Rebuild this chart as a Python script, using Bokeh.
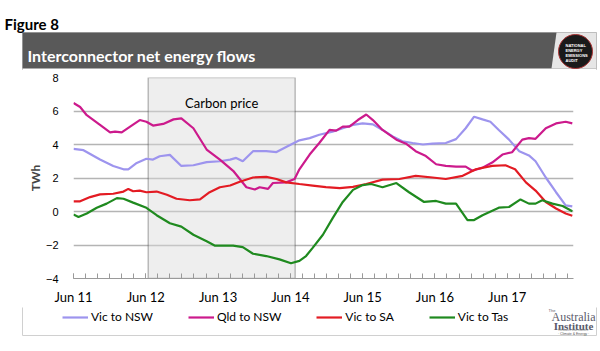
from bokeh.plotting import figure
from bokeh.layouts import column
from bokeh.models import Range1d, FixedTicker, BoxAnnotation, Label, Legend, LegendItem
from bokeh.core.properties import value
from bokeh.embed import file_html
from bokeh.resources import INLINE

# ---- data: x = months since Jun 2011, y = TWh ----
tick_months = [0, 12, 24, 36, 48, 60, 72]
tick_labels = ["Jun 11", "Jun 12", "Jun 13", "Jun 14", "Jun 15", "Jun 16", "Jun 17"]

vic_nsw_x = [0, 1.66, 4.4, 6.6, 8.3, 9.1, 10.5, 12.1, 13.2, 14.3, 16.0, 17.9, 19.9, 22.1, 24.3, 26.0,
             27.0, 28.1, 29.8, 32.0, 33.7, 35.3, 37.5, 39.2, 40.8, 43.0, 44.7, 46.4, 48.0, 49.7, 51.3,
             53.0, 54.6, 56.3, 58.0, 59.6, 61.8, 63.5, 65.1, 66.5, 67.9, 69.2, 70.6, 72.3, 74.0, 75.6,
             76.7, 78.4, 80.1, 81.7, 82.8]
vic_nsw_y = [3.74, 3.66, 3.1, 2.72, 2.52, 2.52, 2.9, 3.15, 3.1, 3.3, 3.38, 2.72, 2.76, 2.95, 3.0, 3.1,
             3.2, 3.0, 3.6, 3.6, 3.55, 3.85, 4.25, 4.38, 4.58, 4.77, 4.97, 5.17, 5.26, 5.2, 4.87,
             4.48, 4.19, 4.09, 4.0, 4.05, 4.09, 4.32, 4.97, 5.66, 5.5, 5.36, 4.87, 4.29, 3.6, 3.35,
             3.0, 2.03, 1.15, 0.37, 0.31]

qld_nsw_x = [0, 1.1, 2.2, 4.4, 6.07, 6.9, 8.0, 9.4, 11.0, 12.1, 13.2, 14.9, 16.6, 17.9, 19.9, 22.1,
             24.3, 26.5, 28.7, 30.1, 30.9, 32.3, 33.1, 35.3, 36.7, 37.5, 39.2, 40.8, 42.5, 43.6, 44.7,
             45.8, 47.2, 48.6, 49.7, 51.3, 53.6, 55.2, 56.8, 58.5, 60.2, 61.8, 63.5, 65.1, 66.2, 67.9,
             69.5, 71.2, 72.8, 74.5, 75.6, 76.7, 78.4, 80.1, 81.7, 82.8]
qld_nsw_y = [6.48, 6.24, 5.75, 5.17, 4.72, 4.77, 4.72, 5.07, 5.46, 5.36, 5.13, 5.23, 5.5, 5.56, 4.97, 3.7,
             3.1, 2.43, 1.45, 1.31, 1.45, 1.35, 1.7, 1.74, 1.94, 2.52, 3.4, 4.09, 4.87, 4.83, 5.07,
             5.07, 5.46, 5.79, 5.46, 4.87, 4.29, 4.05, 3.6, 3.31, 2.82, 2.72, 2.68, 2.68, 2.43, 2.62,
             2.92, 3.4, 3.54, 4.29, 4.38, 4.34, 4.97, 5.26, 5.36, 5.26]

vic_sa_x = [0, 1.1, 2.76, 4.4, 6.6, 8.3, 9.1, 9.9, 11.0, 12.1, 13.8, 15.5, 17.1, 19.3, 21.0, 22.6,
            24.3, 26.0, 27.6, 29.8, 32.0, 33.7, 35.3, 37.5, 39.7, 41.9, 44.2, 46.4, 48.6, 51.3, 54.1,
            56.8, 59.6, 61.8, 64.6, 66.8, 69.5, 71.7, 73.3, 75.1, 76.7, 78.4, 80.1, 81.7, 82.8]
vic_sa_y = [0.61, 0.61, 0.86, 1.02, 1.06, 1.19, 1.35, 1.21, 1.25, 1.15, 1.19, 1.0, 0.76, 0.67, 0.72, 1.15,
            1.45, 1.55, 1.78, 2.03, 2.07, 1.94, 1.74, 1.64, 1.55, 1.45, 1.39, 1.47, 1.64, 1.9, 1.94,
            2.13, 2.03, 1.94, 2.13, 2.52, 2.72, 2.76, 2.52, 1.74, 1.25, 0.57, 0.18, -0.12, -0.25]

vic_tas_x = [0, 0.83, 2.2, 3.86, 5.5, 7.2, 8.3, 9.9, 12.1, 13.8, 16.0, 17.9, 19.9, 22.1, 23.5, 26.5,
             28.1, 29.8, 32.0, 34.2, 36.1, 37.5, 38.6, 39.7, 41.4, 43.0, 44.7, 46.4, 48.0, 49.4, 51.3,
             53.6, 55.7, 58.2, 60.2, 61.8, 63.5, 65.4, 66.5, 67.9, 70.6, 72.3, 74.2, 75.6, 76.7, 77.8,
             79.5, 81.2, 82.8]
vic_tas_y = [-0.18, -0.33, -0.12, 0.22, 0.47, 0.8, 0.76, 0.53, 0.22, -0.22, -0.7, -0.9, -1.39, -1.78, -2.04, -2.04,
             -2.13, -2.52, -2.66, -2.86, -3.09, -2.95, -2.66, -2.17, -1.39, -0.41, 0.57, 1.29, 1.58, 1.64, 1.45,
             1.7, 1.15, 0.57, 0.63, 0.47, 0.47, -0.51, -0.51, -0.22, 0.23, 0.27, 0.72, 0.47, 0.47, 0.67,
             0.47, 0.33, 0.02]

carbon_start = 12.4   # Jul 2012
carbon_end = 36.8     # Jul 2014
carbon_label = "Carbon price"

series_names = ["Vic to NSW", "Qld to NSW", "Vic to SA", "Vic to Tas"]
series_colors = ["#9d94ee", "#cc1a8c", "#e31b23", "#1f8a1f"]

figure_label = "Figure 8"
chart_title = "Interconnector net energy flows"

W = 600
TOP_H, CHART_H, BOT_H = 70, 237, 44

def canvas_fig(h):
    f = figure(width=W, height=h, output_backend="svg", toolbar_location=None,
               x_range=Range1d(0, W), y_range=Range1d(h, 0),
               min_border=0, min_border_left=0, min_border_right=0,
               min_border_top=0, min_border_bottom=0, frame_align=False)
    f.axis.visible = False
    f.grid.visible = False
    f.outline_line_color = None
    f.background_fill_color = "white"
    f.border_fill_color = "white"
    return f

# ---- top: figure label and banner ----
top = canvas_fig(TOP_H)
top.quad(left=[22], right=[596], top=[32], bottom=[TOP_H + 2], fill_color="white", line_color="#d0d0d0")
top.quad(left=[22], right=[596], top=[32], bottom=[68], fill_color="#595959", line_color=None)
top.patch(x=[556, 596, 596, 551], y=[32, 32, 68, 68], fill_color="#e6e6e6", line_color=None)
top.circle(x=[575], y=[51], radius=17, fill_color="#1a1a1a", line_color="#a33", line_width=1)
for i, t in enumerate(["NATIONAL", "ENERGY", "EMISSIONS", "AUDIT"]):
    top.text(x=[565], y=[45 + i * 5], text=[t], text_font=value("Liberation Sans"),
             text_font_style="bold", text_font_size="4px", text_color="white", text_baseline="middle")
top.text(x=[4], y=[23], text=[figure_label], text_font=value("Lato"), text_font_style="bold",
         text_font_size="15px", text_color="black", text_baseline="alphabetic")
top.text(x=[27], y=[55], text=[chart_title], text_font=value("Lato"), text_font_style="bold",
         text_font_size="16px", text_color="white", text_baseline="alphabetic")

# ---- chart ----
p = figure(width=W, height=CHART_H, output_backend="svg", toolbar_location=None,
           x_range=Range1d(0, 83), y_range=Range1d(-4, 8), frame_align=False,
           min_border_left=73, min_border_right=27, min_border_top=7, min_border_bottom=26)
p.outline_line_color = None
p.background_fill_color = "white"
p.border_fill_color = "white"

p.add_layout(BoxAnnotation(left=carbon_start, right=carbon_end, top=8, bottom=-4,
                           fill_color="#d9d9d9", fill_alpha=0.45, line_color="#2b2b2b", line_width=1.5,
                           level="underlay"))
p.add_layout(Label(x=(carbon_start + carbon_end) / 2, y=6.45, text=carbon_label,
                   text_font="Lato", text_font_size="13px", text_color="black",
                   text_align="center", text_baseline="middle"))

p.xgrid.grid_line_color = None
p.ygrid.grid_line_color = "#b4b4b4"
p.ygrid.grid_line_width = 1.5
p.ygrid.ticker = FixedTicker(ticks=[-2, 0, 2, 4, 6, 8])

p.xaxis.ticker = FixedTicker(ticks=tick_months, minor_ticks=list(range(0, 84, 2)))
p.xaxis.major_label_overrides = {m: l for m, l in zip(tick_months, tick_labels)}
p.xaxis.axis_line_color = "#9a9a9a"
p.xaxis.major_tick_line_color = "#9a9a9a"
p.xaxis.minor_tick_line_color = "#9a9a9a"
p.xaxis.major_tick_in = 5
p.xaxis.major_tick_out = 0
p.xaxis.minor_tick_in = 5
p.xaxis.minor_tick_out = 0
p.xaxis.major_label_text_font = "Lato"
p.xaxis.major_label_text_font_size = "13px"
p.xaxis.major_label_text_color = "black"
p.xaxis.major_label_standoff = 10

p.yaxis.ticker = FixedTicker(ticks=[-4, -2, 0, 2, 4, 6, 8])
p.yaxis.axis_line_color = None
p.yaxis.major_tick_line_color = None
p.yaxis.minor_tick_line_color = None
p.yaxis.major_label_text_font = "Liberation Sans"
p.yaxis.major_label_text_font_size = "11px"
p.yaxis.major_label_text_color = "black"
p.yaxis.major_label_standoff = 9
p.yaxis.axis_label = "TWh"
p.yaxis.axis_label_text_font = "Lato"
p.yaxis.axis_label_text_font_style = "bold"
p.yaxis.axis_label_text_font_size = "12px"
p.yaxis.axis_label_standoff = 0

xs = [vic_nsw_x, qld_nsw_x, vic_sa_x, vic_tas_x]
ys = [vic_nsw_y, qld_nsw_y, vic_sa_y, vic_tas_y]
for color, x, y in zip(series_colors, xs, ys):
    p.line(x, y, line_color=color, line_width=2.2)

# ---- bottom: legend and logo ----
bot = canvas_fig(BOT_H)
bot.quad(left=[22], right=[596], top=[-4], bottom=[28], fill_color="white", line_color="#d0d0d0")
items = []
for name, color in zip(series_names, series_colors):
    # legend sample only (drawn off-canvas, shown in the legend)
    r = bot.line(x=[-20, -10], y=[-20, -20], line_color=color, line_width=2.2)
    items.append(LegendItem(label=name, renderers=[r]))
legend = Legend(items=items, orientation="horizontal", location=(62, 27),
                label_text_font="Lato", label_text_font_size="12px", label_text_color="black",
                glyph_width=26, glyph_height=14, label_standoff=3, spacing=35, padding=0, margin=0,
                border_line_color=None, background_fill_alpha=0)
bot.add_layout(legend, "center")
bot.text(x=[573], y=[9], text=["Australia"], text_font=value("Liberation Sans Narrow"),
         text_font_size="12px", text_color="#5a5a6a", text_align="center", text_baseline="alphabetic")
bot.text(x=[548], y=[3], text=["The"], text_font=value("Liberation Sans"),
         text_font_size="4px", text_color="#5a5a6a", text_align="left", text_baseline="alphabetic")
bot.text(x=[573], y=[18], text=["Institute"], text_font=value("Liberation Sans Narrow"),
         text_font_style="bold", text_font_size="11px", text_color="#5a5a6a", text_align="center",
         text_baseline="alphabetic")
bot.text(x=[573], y=[22], text=["Research that matters."], text_font=value("Liberation Sans"),
         text_font_size="3px", text_color="#777777", text_align="center", text_baseline="alphabetic")
bot.text(x=[573], y=[26], text=["· Climate & Energy ·"], text_font=value("Liberation Sans"),
         text_font_size="3.5px", text_color="#555555", text_align="center", text_baseline="alphabetic")

layout = column(top, p, bot, spacing=0)
open("out.html", "w").write(file_html(layout, INLINE))
